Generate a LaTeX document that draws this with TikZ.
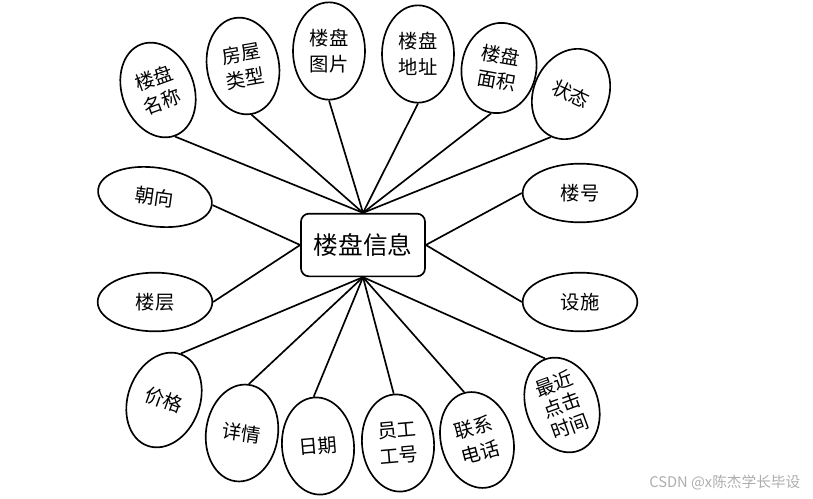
\documentclass[tikz,border=0pt]{standalone}
\usepackage{fontspec}
\setmainfont{Noto Sans CJK SC}
\usetikzlibrary{shapes.geometric}
\begin{document}
\begin{tikzpicture}[x=0.75pt,y=-0.75pt,
  attr/.style={ellipse,draw,line width=1.25pt,inner sep=0pt,align=center,
    font=\fontsize{14.5}{19}\selectfont,minimum width=54pt,minimum height=73pt},
  wide/.style={ellipse,draw,line width=1.25pt,inner sep=0pt,align=center,
    font=\fontsize{14.5}{19}\selectfont,minimum width=86pt,minimum height=44pt},
  ent/.style={draw,rounded corners=6pt,line width=1.25pt,minimum width=93pt,
    minimum height=47pt,inner sep=0pt,font=\fontsize{18.5}{22}\selectfont},
  link/.style={line width=1.25pt}]
\useasboundingbox (0,0) rectangle (813,499);
\node[ent] (c) at (363,245) {楼盘信息};
% top
\node[attr,rotate=20] (a1) at (158,90) {楼盘\\名称};
\node[attr,rotate=10] (a2) at (243,66) {房屋\\类型};
\node[attr] (a3) at (329,51) {楼盘\\图片};
\node[attr] (a4) at (418,54) {楼盘\\地址};
\node[attr,rotate=-10,minimum height=68pt,minimum width=56pt] (a5) at (499,68) {楼盘\\面积};
\node[attr,rotate=-25,minimum height=70pt,minimum width=56pt] (a6) at (571,94) {状态};
% sides
\node[wide,rotate=-8] (l1) at (155,197) {朝向};
\node[wide] (l2) at (155,302) {楼层};
\node[wide] (r1) at (580,193) {楼号};
\node[wide] (r2) at (580,302) {设施};
% bottom
\node[attr,rotate=-20] (b1) at (164,400) {价格};
\node[attr,rotate=-8] (b2) at (242,433) {详情};
\node[attr,rotate=5] (b3) at (318,446) {日期};
\node[attr,rotate=5] (b4) at (398,443) {员工\\工号};
\node[attr,rotate=15] (b5) at (477,440) {联系\\电话};
\node[attr,rotate=20,font=\fontsize{14.5}{17}\selectfont] (b6) at (562,405) {最近\\点击\\时间};
% links
\foreach \n in {a1,a2,a3,a4,a5,a6} \draw[link] (c.north) -- (\n.south);
\foreach \n in {b1,b2,b3,b4,b5,b6} \draw[link] (c.south) -- (\n.north);
\draw[link] (c.west) -- (l1.east);
\draw[link] (c.west) -- (l2.east);
\draw[link] (c.east) -- (r1.west);
\draw[link] (c.east) -- (r2.west);
\node[text=black!32,font=\fontsize{11}{13}\selectfont,anchor=east] (wm) at (805,483) {CSDN @x陈杰学长毕设};
\end{tikzpicture}
\end{document}
